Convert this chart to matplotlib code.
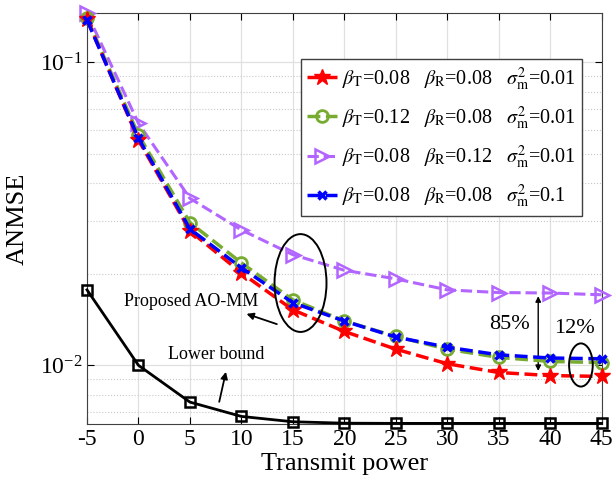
import numpy as np
import matplotlib
matplotlib.use('Agg')
import matplotlib.pyplot as plt
from matplotlib.patches import Ellipse

plt.rcParams['font.family'] = ['Liberation Serif', 'DejaVu Serif']
plt.rcParams['mathtext.fontset'] = 'stix'
plt.rcParams['axes.unicode_minus'] = False

power = [-5, 0, 5, 10, 15, 20, 25, 30, 35, 40, 45]

red = [0.139, 0.0555, 0.0278, 0.0202, 0.01525, 0.01294, 0.01131, 0.01012, 0.00947, 0.00925, 0.00919]
green = [0.140, 0.0577, 0.0296, 0.0218, 0.01645, 0.01402, 0.01245, 0.01131, 0.01062, 0.0103, 0.01021]
purple = [0.1453, 0.063, 0.0356, 0.028, 0.0232, 0.0206, 0.0193, 0.01775, 0.01739, 0.01733, 0.0171]
blue = [0.138, 0.0562, 0.0282, 0.021, 0.0161, 0.0140, 0.0124, 0.01148, 0.01083, 0.01057, 0.01051]
lower = [0.01775, 0.01, 0.00756, 0.00678, 0.00651, 0.00644, 0.00643, 0.00643, 0.00643, 0.00643, 0.00643]

labels = [
    r'$\beta_{\rm T}$=0.08   $\beta_{\rm R}$=0.08   $\sigma^2_{\rm m}$=0.01',
    r'$\beta_{\rm T}$=0.12   $\beta_{\rm R}$=0.08   $\sigma^2_{\rm m}$=0.01',
    r'$\beta_{\rm T}$=0.08   $\beta_{\rm R}$=0.12   $\sigma^2_{\rm m}$=0.01',
    r'$\beta_{\rm T}$=0.08   $\beta_{\rm R}$=0.08   $\sigma^2_{\rm m}$=0.1',
]

fig = plt.figure(figsize=(6.12, 4.87), dpi=100)
ax = fig.add_axes([87 / 612, 1 - 424 / 487, 514.5 / 612, 411 / 487])

ax.plot(power, red, '--', color='#ff0000', lw=2.5, marker='*', ms=12, label=labels[0], clip_on=False, zorder=5)
ax.plot(power, green, '--', color='#77ac30', lw=2.5, marker='o', ms=8.5, mfc='none', mew=2, label=labels[1], clip_on=False, zorder=4)
ax.plot(power, purple, '--', color='#b266ff', lw=2.2, marker='>', ms=10, mfc='none', mew=1.8, label=labels[2], clip_on=False, zorder=3)
ax.plot(power, blue, '--', color='#0000ff', lw=2.5, marker='x', ms=6, mew=2.5, label=labels[3], clip_on=False, zorder=6)
ax.plot(power, lower, '-', color='black', lw=2.0, marker='s', ms=7, mfc='none', mew=1.8, clip_on=False, zorder=7)

ax.set_yscale('log')
ax.set_xlim(-5, 45)
ax.set_ylim(0.0064, 0.1457)
ax.set_xticks(power)
ax.set_xticklabels([str(p) for p in power])
ax.tick_params(labelsize=17, direction='in', length=5, top=True, right=True)
ax.tick_params(which='minor', length=0)
ax.set_xlabel('Transmit power', fontsize=19, labelpad=2)
ax.set_ylabel('ANMSE', fontsize=19, labelpad=8)
ax.grid(True, which='major', color='#e0e0e0', lw=0.9)
ax.grid(True, which='minor', color='#c8c8c8', lw=0.8, ls=':')
ax.set_axisbelow(True)
for s in ax.spines.values():
    s.set_color('#404040')

leg = ax.legend(loc='upper right', bbox_to_anchor=(0.962, 0.888), fontsize=14.5, handlelength=1.5,
                handletextpad=0.25, borderaxespad=0.0, labelspacing=0.58, fancybox=False,
                framealpha=1, edgecolor='#404040', borderpad=0.3)
leg.get_frame().set_linewidth(1.0)

# annotations in axes fraction
ax.add_patch(Ellipse((0.415, 0.343), 0.101, 0.238, transform=ax.transAxes, fill=False, lw=1.4, color='black', zorder=8))
ax.add_patch(Ellipse((0.960, 0.1436), 0.046, 0.105, transform=ax.transAxes, fill=False, lw=1.4, color='black', zorder=8))

ax.text(0.202, 0.297, 'Proposed AO-MM', transform=ax.transAxes, ha='center', va='center', fontsize=13)
ax.annotate('', xy=(0.310, 0.268), xytext=(0.369, 0.243), xycoords='axes fraction', textcoords='axes fraction',
            arrowprops=dict(arrowstyle='-|>', color='black', lw=1.3, mutation_scale=10, shrinkA=0, shrinkB=0))
ax.text(0.251, 0.168, 'Lower bound', transform=ax.transAxes, ha='center', va='center', fontsize=13)
ax.annotate('', xy=(0.270, 0.127), xytext=(0.257, 0.054), xycoords='axes fraction', textcoords='axes fraction',
            arrowprops=dict(arrowstyle='-|>', color='black', lw=1.3, mutation_scale=10, shrinkA=0, shrinkB=0))
ax.annotate('', xy=(0.877, 0.311), xytext=(0.877, 0.129), xycoords='axes fraction', textcoords='axes fraction',
            arrowprops=dict(arrowstyle='<|-|>', color='black', lw=1.0, mutation_scale=8, shrinkA=0, shrinkB=0))
ax.text(0.822, 0.241, '85%', transform=ax.transAxes, ha='center', va='center', fontsize=16)
ax.text(0.948, 0.233, '12%', transform=ax.transAxes, ha='center', va='center', fontsize=16)

fig.savefig('out.png', dpi=100)
